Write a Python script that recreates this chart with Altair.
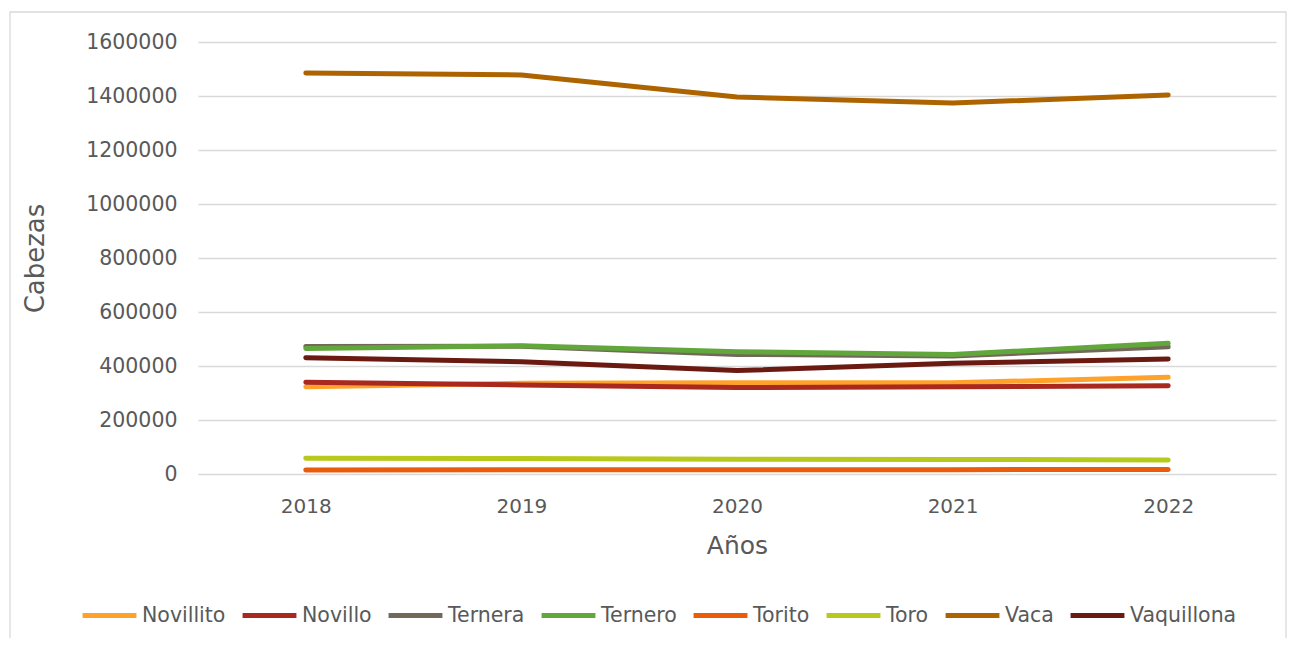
import altair as alt
import pandas as pd

years = ["2018", "2019", "2020", "2021", "2022"]
series = ["Novillito", "Novillo", "Ternera", "Ternero", "Torito", "Toro", "Vaca", "Vaquillona"]
colors = ["#FFA22B", "#A9291F", "#71685A", "#62A73B", "#EA5B0C", "#B7C91B", "#AD6400", "#6B1A12"]

novillito = [323000, 336000, 338000, 338000, 358000]
novillo = [340000, 330000, 320000, 323000, 327000]
ternera = [472000, 473000, 443000, 437000, 471000]
ternero = [465000, 475000, 453000, 443000, 484000]
torito = [15000, 16000, 16000, 16000, 17000]
toro = [58000, 57000, 55000, 54000, 52000]
vaca = [1485000, 1478000, 1396000, 1374000, 1404000]
vaquillona = [431000, 416000, 383000, 410000, 426000]

values = [novillito, novillo, ternera, ternero, torito, toro, vaca, vaquillona]
rows = []
for name, vals in zip(series, values):
    for y, v in zip(years, vals):
        rows.append({"Año": y, "Serie": name, "Cabezas": v})
df = pd.DataFrame(rows)

FONT = "DejaVu Sans"
GRAY = "#595959"

lines = alt.Chart(df).mark_line(strokeWidth=5, strokeCap="round", strokeJoin="round").encode(
    x=alt.X("Año:O", scale=alt.Scale(type="point", padding=0.5), sort=years,
            axis=alt.Axis(title="Años", labelAngle=0, ticks=False, domain=True, domainColor="#D9D9D9",
                          domainWidth=1, labelPadding=22, labelFontSize=20, labelColor=GRAY,
                          titleFontSize=25, titleColor=GRAY, titleFontWeight="normal",
                          titleX=539, titleY=71, titleBaseline="middle")),
    y=alt.Y("Cabezas:Q", scale=alt.Scale(domain=[0, 1600000]),
            axis=alt.Axis(title="Cabezas", values=[0, 200000, 400000, 600000, 800000, 1000000, 1200000, 1400000, 1600000],
                          format="d", ticks=False, domain=False, grid=True, gridColor="#D9D9D9", gridWidth=1.3,
                          labelPadding=21, labelFontSize=20.5, labelColor=GRAY,
                          titleFontSize=26, titleColor=GRAY, titleFontWeight="normal",
                          titleX=-163, titleY=216, titleBaseline="middle")),
    color=alt.Color("Serie:N", scale=alt.Scale(domain=series, range=colors), sort=series,
                    legend=alt.Legend(title=None, orient="none", legendX=-118, legendY=544,
                                      direction="horizontal", columns=8, symbolType="stroke",
                                      symbolSize=2900, symbolStrokeWidth=5, labelFontSize=20.5,
                                      labelColor=GRAY, labelOffset=3, columnPadding=6)),
    order=alt.Order("Año:O"),
)

border = alt.Chart(alt.Data(values=[{"a": 1}])).mark_rect(fill=None, stroke="#D9D9D9", strokeWidth=1.3).encode(
    x=alt.value(-188), x2=alt.value(1088), y=alt.value(-30), y2=alt.value(640)
)

chart = alt.layer(border, lines).properties(
    width=1078, height=432,
    autosize=alt.AutoSizeParams(type="none"),
    padding={"left": 190, "top": 34, "right": 11, "bottom": 164},
).configure(font=FONT).configure_view(stroke=None)

chart.save("out.html", embed_options={"renderer": "svg", "actions": False})
